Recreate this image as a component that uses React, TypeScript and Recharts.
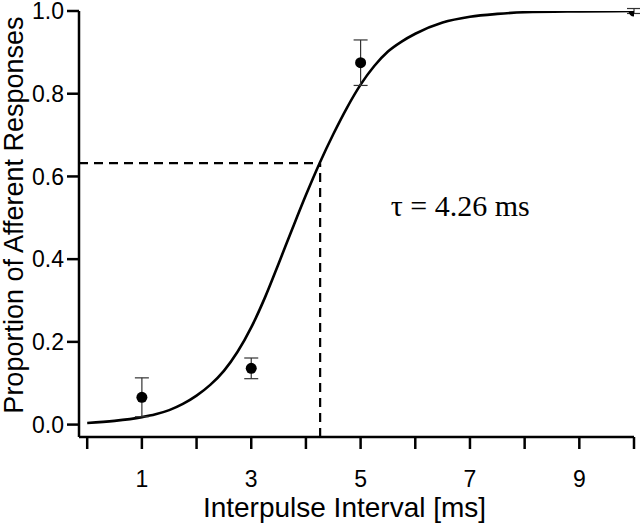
import React from "react";
import {
  ComposedChart,
  Line,
  Scatter,
  ErrorBar,
  XAxis,
  YAxis,
  ReferenceLine,
  ReferenceDot,
} from "recharts";

// fitted curve
const curveX = [0, 0.5, 1, 1.25, 1.5, 1.75, 2, 2.25, 2.5, 2.75, 3, 3.25, 3.5, 3.75, 4, 4.25, 4.5, 4.75, 5, 5.25, 5.5, 5.75, 6, 6.5, 7, 7.5, 8, 9, 10];
const curveY = [0.004, 0.009, 0.018, 0.025, 0.035, 0.05, 0.07, 0.096, 0.13, 0.176, 0.235, 0.307, 0.389, 0.473, 0.555, 0.632, 0.702, 0.766, 0.822, 0.867, 0.902, 0.926, 0.945, 0.972, 0.986, 0.993, 0.997, 0.999, 1.0];

// measured points with error bars
const pointX = [1, 3, 5, 10];
const pointY = [0.066, 0.136, 0.875, 1.0];
const pointErr = [0.047, 0.025, 0.055, 0.006];

const xTicks = [0, 1, 2, 3, 4, 5, 6, 7, 8, 9, 10];
const yTicks = [0, 0.2, 0.4, 0.6, 0.8, 1.0];

const TAU = 4.26;
const TAU_Y = 0.632;

const curveData = curveX.map((x, i) => ({ x, y: curveY[i] }));
const pointData = pointX.map((x, i) => ({ x, y: pointY[i], err: pointErr[i] }));

const SANS = "Arial, 'Liberation Sans', Helvetica, sans-serif";
const SERIF = "'Times New Roman', 'Liberation Serif', serif";

const axisStyle = { stroke: "#000", strokeWidth: 2.5 };

export default function App() {
  return (
    <div style={{ position: "fixed", left: 0, top: 0, background: "#fff" }}>
      <ComposedChart width={640} height={523} margin={{ top: 11, right: 6, bottom: 0, left: 0 }}>
        <XAxis
          dataKey="x"
          type="number"
          domain={[-0.15, 10]}
          ticks={xTicks}
          interval={0}
          allowDataOverflow
          height={86}
          tickSize={12}
          tickMargin={22}
          axisLine={axisStyle}
          tickLine={axisStyle}
          tick={{ fill: "#000", fontSize: 23, fontFamily: SANS }}
          tickFormatter={(v: number) => (v % 2 === 1 ? String(v) : "")}
          label={{
            content: ({ viewBox }: any) => (
              <text
                x={viewBox.x + viewBox.width / 2 - 12}
                y={viewBox.y + 80}
                textAnchor="middle"
                fontSize={28}
                fontFamily={SANS}
                fill="#000"
              >
                Interpulse Interval [ms]
              </text>
            ),
          }}
        />
        <YAxis
          type="number"
          domain={[-0.03, 1]}
          ticks={yTicks}
          interval={0}
          allowDataOverflow
          width={79}
          tickSize={12}
          tickMargin={3}
          axisLine={axisStyle}
          tickLine={axisStyle}
          tick={{ fill: "#000", fontSize: 23, fontFamily: SANS }}
          tickFormatter={(v: number) => v.toFixed(1)}
          label={{
            content: () => {
              const cx = 23;
              const cy = 215;
              return (
                <text
                  x={cx}
                  y={cy}
                  transform={`rotate(-90 ${cx} ${cy})`}
                  textAnchor="middle"
                  fontSize={27}
                  fontFamily={SANS}
                  fill="#000"
                >
                  Proportion of Afferent Responses
                </text>
              );
            },
          }}
        />
        <ReferenceLine
          segment={[{ x: -0.15, y: TAU_Y }, { x: TAU, y: TAU_Y }]}
          stroke="#000"
          strokeWidth={2.2}
          strokeDasharray="9 6"
          ifOverflow="visible"
        />
        <ReferenceLine
          segment={[{ x: TAU, y: -0.03 }, { x: TAU, y: TAU_Y }]}
          stroke="#000"
          strokeWidth={2.2}
          strokeDasharray="9 6"
          ifOverflow="visible"
        />
        <Line
          data={curveData}
          dataKey="y"
          type="monotone"
          stroke="#000"
          strokeWidth={2.6}
          dot={false}
          activeDot={false}
          isAnimationActive={false}
        />
        <Scatter data={pointData} dataKey="y" fill="#000" isAnimationActive={false}
          shape={(p: any) => <circle cx={p.cx} cy={p.cy} r={5.5} fill="#000" />}
        >
          <ErrorBar dataKey="err" direction="y" width={7} stroke="#333" strokeWidth={1.2} isAnimationActive={false} />
        </Scatter>
        <ReferenceDot
          x={5.55}
          y={0.505}
          r={0}
          ifOverflow="visible"
          label={{
            content: ({ viewBox }: any) => (
              <text x={viewBox.x} y={viewBox.y} fontSize={30} fontFamily={SERIF} fill="#000">
                τ = 4.26 ms
              </text>
            ),
          }}
        />
      </ComposedChart>
    </div>
  );
}
